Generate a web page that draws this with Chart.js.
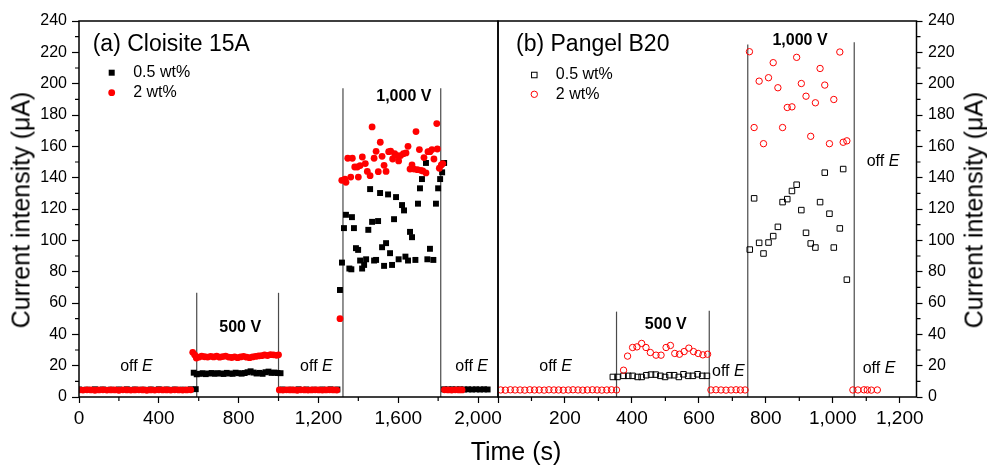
<!DOCTYPE html>
<html>
<head>
<meta charset="utf-8">
<script src="https://cdn.jsdelivr.net/npm/chart.js@4.4.1/dist/chart.umd.min.js"></script>
<style>
html, body { margin: 0; padding: 0; background: #fff; }
#wrap { position: relative; width: 987px; height: 465px; overflow: hidden;
        font-family: "Liberation Sans", Arial, Helvetica, sans-serif; }
#wrap canvas { position: absolute; left: 0; top: 0; }
.ttl { position: absolute; font-size: 25px; line-height: 25px; white-space: nowrap; color: #000;
       transform: translate(-50%, -50%); }
.rot { transform: translate(-50%, -50%) rotate(-90deg); }
</style>
</head>
<body>
<div id="wrap">
  <canvas id="chartA" width="987" height="465"></canvas>
  <canvas id="chartB" width="987" height="465"></canvas>
  <div class="ttl rot" style="left:21px; top:210px;">Current intensity (μA)</div>
  <div class="ttl rot" style="left:974px; top:210px;">Current intensity (μA)</div>
  <div class="ttl" style="left:516px; top:451px;">Time (s)</div>
</div>
<script>
// ---- (a) Cloisite 15A ----
// 0.5 wt% (filled squares)
const aBlackT = [
  0, 40, 80, 120, 160, 200, 240, 280, 320, 360, 400, 440, 480, 520, 560, 585,
  575, 590, 605, 620, 635, 650, 665, 680, 695, 710, 725, 740, 755, 770, 785, 800, 815, 830, 845, 860,
  875, 890, 905, 920, 935, 950, 965, 980, 995, 1010,
  1020, 1060, 1100, 1140, 1180, 1220, 1260, 1295,
  1308, 1318, 1328, 1338, 1355, 1365, 1368, 1378, 1388, 1399, 1409, 1419, 1429, 1439, 1450, 1459, 1469,
  1479, 1489, 1499, 1509, 1519, 1529, 1539, 1549, 1559, 1569, 1579, 1589, 1602, 1619, 1629, 1636, 1649,
  1659, 1669, 1686, 1699, 1709, 1719, 1739, 1746, 1759, 1776, 1789, 1800, 1810, 1820, 1830,
  1830, 1850, 1870, 1890, 1910, 1930, 1950, 1970, 1990, 2010, 2030, 2048
];
const aBlackY = [
  4.8, 4.7, 4.9, 4.8, 4.7, 4.8, 4.9, 4.8, 4.7, 4.8, 4.9, 4.8, 4.8, 4.7, 4.9, 5.0,
  15.5, 14.5, 14.8, 15.2, 14.6, 15.0, 15.3, 14.8, 15.2, 15.0, 14.7, 15.4, 15.0, 14.8, 15.5, 15.2, 14.9, 15.3, 15.8, 16.4,
  15.6, 15.0, 15.4, 14.8, 15.8, 16.2, 15.4, 15.6, 15.3, 15.2,
  4.8, 4.7, 4.9, 4.8, 4.7, 4.8, 4.9, 4.8,
  68.3, 85.8, 107.8, 116.3, 82.0, 81.5, 114.8, 107.8, 95.0, 93.9, 87.1, 82.0, 84.3, 87.9, 106.7, 132.7, 111.8,
  87.1, 87.5, 112.3, 130.2, 95.6, 83.7, 98.2, 129.3, 91.8, 84.3, 113.5, 127.6, 87.9, 122.5, 119.1, 89.6, 87.1,
  105.4, 102.0, 87.5, 123.4, 133.2, 139.1, 149.4, 87.9, 94.6, 87.5, 123.4, 133.2, 139.1, 143.4, 149.4,
  4.9, 4.8, 4.9, 4.8, 4.9, 4.8, 4.9, 4.8, 4.9, 4.8, 4.9, 4.8
];
// 2 wt% (filled circles)
const aRedT = [
  0, 20, 40, 60, 80, 100, 120, 140, 160, 180, 200, 220, 240, 260, 280, 300, 320, 340, 360, 380,
  400, 420, 440, 460, 480, 500, 520, 540, 560,
  570, 580, 588, 600, 615, 630, 645, 660, 675, 690, 705, 720, 735, 750, 765, 780, 795, 810, 825, 840,
  855, 870, 885, 900, 915, 930, 945, 960, 975, 990, 1000,
  1004, 1022, 1040, 1058, 1076, 1094, 1112, 1130, 1148, 1166, 1184, 1202, 1220, 1238, 1256, 1274, 1292,
  1308, 1317, 1333, 1338, 1347, 1362, 1370, 1382, 1395, 1400, 1409, 1420, 1435, 1445, 1459, 1469, 1479,
  1489, 1500, 1510, 1519, 1529, 1539, 1552, 1562, 1572, 1582, 1596, 1602, 1612, 1626, 1639, 1649, 1659,
  1669, 1679, 1689, 1696, 1706, 1713, 1723, 1729, 1739, 1749, 1759, 1769, 1779, 1793, 1796, 1806, 1816, 1823,
  1832, 1850, 1868, 1886, 1904, 1920
];
const aRedY = [
  4.5, 4.4, 4.6, 4.5, 4.3, 4.5, 4.6, 4.4, 4.5, 4.5, 4.3, 4.6, 4.5, 4.4, 4.5, 4.6, 4.5, 4.3, 4.5, 4.4,
  4.6, 4.5, 4.5, 4.4, 4.6, 4.5, 4.4, 4.5, 4.6,
  28.5, 26.8, 24.9, 25.4, 26.0, 25.7, 25.5, 25.9, 25.6, 26.0, 25.4, 25.8, 26.1, 25.5, 25.2, 25.6, 25.1, 25.6, 25.9, 25.4,
  25.1, 25.6, 25.9, 26.2, 26.4, 26.8, 26.5, 27.0, 26.9, 26.6, 26.9,
  4.5, 4.4, 4.6, 4.5, 4.5, 4.3, 4.6, 4.5, 4.4, 4.5, 4.6, 4.5, 4.4, 4.5, 4.6, 4.5, 4.4,
  50.0, 138.3, 139.1, 137.0, 152.4, 140.4, 152.4, 146.8, 146.8, 140.4, 147.7, 153.2, 149.0, 144.0, 141.3, 172.4, 152.4,
  156.8, 143.8, 162.6, 153.6, 147.9, 144.0, 156.6, 157.0, 151.9, 155.3, 154.1, 150.7, 154.1, 155.3, 155.8, 160.0, 145.5,
  148.1, 145.5, 169.4, 145.1, 157.9, 144.7, 144.3, 152.8, 143.0, 156.6, 156.6, 157.9, 151.9, 174.5, 158.3, 146.0, 148.1, 149.0,
  4.6, 4.5, 4.4, 4.6, 4.5, 4.5
];
const aLineT = [590, 1000, 1323, 1813];
const aLineTop = [66.5, 66.5, 197, 197];
const aNotes = ['off E', '500 V', 'off E', '1,000 V', 'off E'];
const aNoteT = [288, 808, 1190, 1628, 1968];
const aNoteY = [19.2, 44.2, 19.6, 192, 19.6];
const aXTicks = [0, 400, 800, 1200, 1600, 2000];
const aXLabels = ['0', '400', '800', '1,200', '1,600', '2,000'];
const aXMinor = [200, 600, 1000, 1400, 1800];

// ---- (b) Pangel B20 ----
// 0.5 wt% (open squares)
const bBlackT = [
  343, 357, 375, 389, 402, 417, 429, 443, 457, 471, 485, 499, 512, 526, 540, 554, 568, 582, 596, 610, 624,
  752, 765, 780, 793, 808, 822, 836, 850, 864, 878, 892, 906, 920, 934, 948, 962, 976, 990, 1003, 1021, 1031, 1042
];
const bBlackY = [
  12.8, 12.8, 13.5, 13.5, 13.5, 12.8, 12.8, 13.9, 14.3, 14.3, 13.5, 12.8, 13.9, 13.9, 12.8, 14.5, 13.5, 13.5, 14.5, 13.5, 13.5,
  94.1, 126.8, 98.4, 91.6, 98.6, 102.7, 108.6, 124.4, 126.3, 131.5, 135.5, 119.3, 104.8, 98.0, 95.4, 124.4, 143.2, 117.0,
  95.4, 107.6, 145.5, 74.9
];
// 2 wt% (open circles)
const bRedT = [
  8, 22, 37, 51, 66, 80, 95, 109, 123, 138, 152, 167, 181, 195, 210, 224, 239, 253, 267, 282, 296, 310, 325, 339, 354,
  375, 387, 402, 415, 429, 442, 455, 472, 487, 502, 515, 528, 542, 556, 570, 584, 598, 612, 626,
  636, 651, 666, 681, 696, 711, 724, 738,
  751, 765, 780, 793, 808, 822, 836, 850, 864, 878, 892, 906, 920, 934, 948, 962, 976, 990, 1003, 1021, 1031, 1042,
  1060, 1075, 1093, 1103, 1115, 1133
];
const bRedY = [
  4.5, 4.4, 4.6, 4.5, 4.5, 4.4, 4.6, 4.5, 4.5, 4.4, 4.6, 4.5, 4.5, 4.4, 4.5, 4.6, 4.5, 4.4, 4.5, 4.6, 4.5, 4.4, 4.5, 4.6, 4.5,
  17.1, 26.1, 31.6, 32.0, 34.2, 31.6, 28.4, 26.7, 26.7, 31.6, 32.9, 27.8, 27.3, 29.0, 31.2, 29.0, 27.8, 26.9, 27.3,
  4.5, 4.6, 4.5, 4.4, 4.5, 4.6, 4.5, 4.5,
  220.4, 172.0, 201.6, 161.7, 203.8, 213.4, 197.4, 172.0, 184.8, 185.2, 216.8, 200.1, 192.0, 166.4, 187.8, 209.7, 199.1,
  161.7, 189.9, 220.2, 162.6, 163.5,
  4.5, 4.5, 4.6, 4.5, 4.4, 4.5
];
const bLineT = [354, 631, 746, 1064];
const bLineTop = [54.5, 55, 225, 226.5];
const bNotes = ['off E', '500 V', 'off E', '1,000 V', 'off E', 'off E'];
const bNoteT = [172, 501, 688, 902, 1150, 1138];
const bNoteY = [19.2, 46.3, 16, 227.8, 150, 18.2];
const bXTicks = [0, 200, 400, 600, 800, 1000, 1200];
const bXLabels = ['', '200', '400', '600', '800', '1,000', '1,200'];
const bXMinor = [100, 300, 500, 700, 900, 1100];

// shared y axis
const yTicks = [0, 20, 40, 60, 80, 100, 120, 140, 160, 180, 200, 220, 240];
const yLabels = ['0', '20', '40', '60', '80', '100', '120', '140', '160', '180', '200', '220', '240'];

const FONT = '"Liberation Sans", Arial, Helvetica, sans-serif';
Chart.defaults.font.family = FONT;
Chart.defaults.color = '#000';

const pts = (t, v) => t.map((x, i) => ({ x: x, y: v[i] }));

function panelPlugin(p) {
  return {
    id: 'panel',
    beforeDatasetsDraw(chart) {
      const { ctx, scales: { x, y } } = chart;
      ctx.save();
      ctx.strokeStyle = '#4a4a4a';
      ctx.lineWidth = 1.2;
      p.lineT.forEach((t, i) => {
        const px = x.getPixelForValue(t);
        ctx.beginPath();
        ctx.moveTo(px, y.getPixelForValue(0));
        ctx.lineTo(px, y.getPixelForValue(p.lineTop[i]));
        ctx.stroke();
      });
      ctx.restore();
    },
    afterDraw(chart) {
      const { ctx, chartArea: a, scales: { x, y } } = chart;
      ctx.save();
      // frame
      ctx.strokeStyle = '#000';
      ctx.lineWidth = 1.5;
      ctx.strokeRect(a.left, a.top, a.right - a.left, a.bottom - a.top);
      // minor ticks
      ctx.lineWidth = 1.2;
      ctx.beginPath();
      const ax = p.yRight ? a.right : a.left;
      for (let v = 10; v < 240; v += 20) {
        const py = y.getPixelForValue(v);
        ctx.moveTo(ax, py);
        ctx.lineTo(ax + (p.yRight ? 4 : -4), py);
      }
      p.xMinor.forEach(v => {
        const px = x.getPixelForValue(v);
        ctx.moveTo(px, a.bottom);
        ctx.lineTo(px, a.bottom + 4);
      });
      ctx.stroke();

      // panel title
      ctx.fillStyle = '#000';
      ctx.textBaseline = 'middle';
      ctx.textAlign = 'left';
      ctx.font = '23px ' + FONT;
      ctx.fillText(p.title, a.left + p.titleDx, 45);

      // legend
      const mx = a.left + p.legDx;
      ctx.font = '16px ' + FONT;
      ctx.fillText('0.5 wt%', mx + 21.5, p.legY[0]);
      ctx.fillText('2 wt%', mx + 21.5, p.legY[1]);
      ctx.lineWidth = 1;
      if (p.open) {
        ctx.strokeStyle = '#000';
        ctx.strokeRect(mx - 2.75, p.legY[0] - 2.75, 5.5, 5.5);
        ctx.strokeStyle = '#ff0000';
        ctx.beginPath(); ctx.arc(mx, p.legY[1], 3.2, 0, Math.PI * 2); ctx.stroke();
      } else {
        ctx.fillStyle = '#000';
        ctx.fillRect(mx - 3, p.legY[0] - 3, 6, 6);
        ctx.fillStyle = '#ff0000';
        ctx.beginPath(); ctx.arc(mx, p.legY[1], 3.4, 0, Math.PI * 2); ctx.fill();
      }

      // annotations
      ctx.fillStyle = '#000';
      p.notes.forEach((txt, i) => {
        const cx = x.getPixelForValue(p.noteT[i]);
        const cy = y.getPixelForValue(p.noteY[i]);
        if (txt.endsWith(' E')) {
          const head = txt.slice(0, -1);
          ctx.font = '16px ' + FONT;
          const w1 = ctx.measureText(head).width;
          ctx.font = 'italic 16px ' + FONT;
          const w2 = ctx.measureText('E').width;
          const sx = cx - (w1 + w2) / 2;
          ctx.textAlign = 'left';
          ctx.font = '16px ' + FONT;
          ctx.fillText(head, sx, cy);
          ctx.font = 'italic 16px ' + FONT;
          ctx.fillText('E', sx + w1, cy);
        } else {
          ctx.font = 'bold 16px ' + FONT;
          ctx.textAlign = 'center';
          ctx.fillText(txt, cx, cy);
        }
      });
      ctx.restore();
    }
  };
}

function xScale(max, ticks, labels) {
  return {
    type: 'linear', position: 'bottom', min: 0, max: max,
    afterBuildTicks: s => { s.ticks = ticks.map(v => ({ value: v })); },
    afterFit: s => { s.height = 68; },
    grid: { drawOnChartArea: false, tickLength: 6, tickColor: '#000', tickWidth: 1.2 },
    border: { display: false },
    ticks: { padding: 4, font: { size: 19 }, color: '#000', maxRotation: 0, autoSkip: false,
             callback: (v, i) => labels[i] }
  };
}

function yScale(side, width, tickLen, pad) {
  return {
    type: 'linear', position: side, min: 0, max: 240,
    afterBuildTicks: s => { s.ticks = yTicks.map(v => ({ value: v })); },
    afterFit: s => { s.width = width; },
    grid: { drawOnChartArea: false, tickLength: tickLen, tickColor: '#000', tickWidth: 1.2 },
    border: { display: false },
    ticks: { padding: pad, font: { size: 16 }, color: '#000', autoSkip: false,
             callback: (v, i) => yLabels[i] }
  };
}

function baseOptions(padding, scales) {
  return {
    responsive: false,
    animation: false,
    devicePixelRatio: 1,
    events: [],
    layout: { padding: padding },
    plugins: { legend: { display: false }, tooltip: { enabled: false } },
    scales: scales
  };
}

new Chart(document.getElementById('chartA'), {
  type: 'scatter',
  data: {
    datasets: [
      { label: '2 wt%', data: pts(aRedT, aRedY), order: 0, pointStyle: 'circle', pointRadius: 3.4,
        pointBackgroundColor: '#ff0000', pointBorderWidth: 0 },
      { label: '0.5 wt%', data: pts(aBlackT, aBlackY), order: 1, pointStyle: 'rect', pointRadius: 4.2,
        pointBackgroundColor: '#000', pointBorderWidth: 0 }
    ]
  },
  options: baseOptions({ left: 0, right: 489, top: 21, bottom: 0 }, {
    x: xScale(2100, aXTicks, aXLabels),
    y: yScale('left', 79, 7, 5)
  }),
  plugins: [panelPlugin({
    lineT: aLineT, lineTop: aLineTop, notes: aNotes, noteT: aNoteT, noteY: aNoteY,
    xMinor: aXMinor, yRight: false, title: '(a) Cloisite 15A', titleDx: 13.7,
    legDx: 32.7, legY: [72.7, 92.7], open: false
  })]
});

new Chart(document.getElementById('chartB'), {
  type: 'scatter',
  data: {
    datasets: [
      { label: '2 wt%', data: pts(bRedT, bRedY), order: 0, pointStyle: 'circle', pointRadius: 3.2,
        pointBackgroundColor: 'rgba(0,0,0,0)', pointBorderColor: '#ff0000', pointBorderWidth: 1 },
      { label: '0.5 wt%', data: pts(bBlackT, bBlackY), order: 1, pointStyle: 'rect', pointRadius: 3.9,
        pointBackgroundColor: 'rgba(0,0,0,0)', pointBorderColor: '#000', pointBorderWidth: 1 }
    ]
  },
  options: baseOptions({ left: 498, right: 0, top: 21, bottom: 0 }, {
    x: xScale(1250, bXTicks, bXLabels),
    y: yScale('right', 70.5, 6, 5.5)
  }),
  plugins: [panelPlugin({
    lineT: bLineT, lineTop: bLineTop, notes: bNotes, noteT: bNoteT, noteY: bNoteY,
    xMinor: bXMinor, yRight: true, title: '(b) Pangel B20', titleDx: 18,
    legDx: 36.3, legY: [75, 94.3], open: true
  })]
});
</script>
</body>
</html>
